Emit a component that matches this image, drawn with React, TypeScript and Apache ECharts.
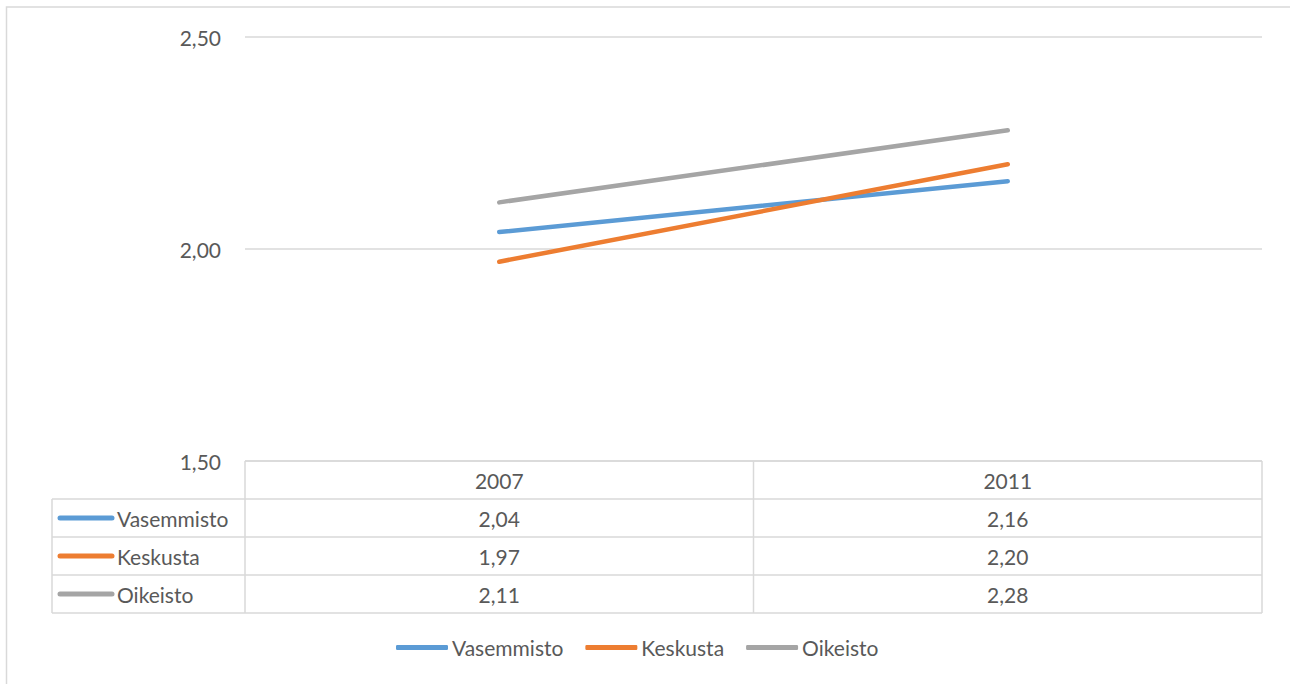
import React, { useEffect, useRef } from "react";
import * as echarts from "echarts";

const categories = ["2007", "2011"];
const seriesNames = ["Vasemmisto", "Keskusta", "Oikeisto"];
const vasemmisto = [2.04, 2.16];
const keskusta = [1.97, 2.2];
const oikeisto = [2.11, 2.28];
const colors = ["#5B9BD5", "#ED7D31", "#A5A5A5"];
const yMin = 1.5;
const yMax = 2.5;
const yInterval = 0.5;

const FONT = "Lato, 'Open Sans', sans-serif";
const FS = 21;
const TEXT = "#595959";
const GRID_C = "#d9d9d9";

export default function App() {
  const ref = useRef<HTMLDivElement>(null);
  useEffect(() => {
    if (!ref.current) return;
    const chart = echarts.init(ref.current, null, { renderer: "svg" });
    const allData = [vasemmisto, keskusta, oikeisto];
    const gl = 245, gr = 1262, gt = 37, gb = 461;
    const W = 1290, H = 684;
    const rowH = 38;
    const tableLeft = 52;
    const nRows = seriesNames.length;
    const tableBottom = gb + rowH * (nRows + 1);
    const catW = (gr - gl) / categories.length;

    const graphics: any[] = [];
    graphics.push({
      type: "rect",
      shape: { x: 6.5, y: 7, width: W + 20, height: H + 20 },
      style: { fill: "none", stroke: GRID_C, lineWidth: 1.5 },
      silent: true,
    });
    for (let r = 1; r <= nRows + 1; r++) {
      const y = gb + r * rowH;
      graphics.push({
        type: "line",
        shape: { x1: tableLeft, y1: y, x2: gr, y2: y },
        style: { stroke: GRID_C, lineWidth: 1.5 },
        silent: true,
      });
    }
    graphics.push({
      type: "line",
      shape: { x1: gl, y1: gb, x2: gr, y2: gb },
      style: { stroke: GRID_C, lineWidth: 1.5 },
      silent: true,
    });
    for (let c = 0; c <= categories.length; c++) {
      const x = gl + c * catW;
      graphics.push({
        type: "line",
        shape: { x1: x, y1: gb, x2: x, y2: tableBottom },
        style: { stroke: GRID_C, lineWidth: 1.5 },
        silent: true,
      });
    }
    graphics.push({
      type: "line",
      shape: { x1: tableLeft, y1: gb + rowH, x2: tableLeft, y2: tableBottom },
      style: { stroke: GRID_C, lineWidth: 1.5 },
      silent: true,
    });
    seriesNames.forEach((name, i) => {
      const yc = gb + rowH * (i + 1) + rowH / 2;
      graphics.push({
        type: "line",
        shape: { x1: 60, y1: yc, x2: 112, y2: yc },
        style: { stroke: colors[i], lineWidth: 5, lineCap: "round" },
        silent: true,
      });
      graphics.push({
        type: "text",
        x: 117,
        y: yc,
        style: {
          text: name,
          fill: TEXT,
          font: `${FS}px ${FONT}`,
          verticalAlign: "middle",
          align: "left",
        },
        silent: true,
      });
      categories.forEach((_, c) => {
        graphics.push({
          type: "text",
          x: gl + (c + 0.5) * catW,
          y: yc,
          style: {
            text: allData[i][c].toFixed(2).replace(".", ","),
            fill: TEXT,
            font: `${FS}px ${FONT}`,
            verticalAlign: "middle",
            align: "center",
          },
          silent: true,
        });
      });
    });

    chart.setOption({
      animation: false,
      backgroundColor: "#ffffff",
      color: colors,
      grid: { left: gl, right: W - gr, top: gt, bottom: H - gb, containLabel: false },
      xAxis: {
        type: "category",
        data: categories,
        boundaryGap: true,
        axisLine: { show: false },
        axisTick: { show: false },
        axisLabel: {
          color: TEXT,
          fontSize: FS,
          fontFamily: FONT,
          margin: 9,
        },
      },
      yAxis: {
        type: "value",
        min: yMin,
        max: yMax,
        interval: yInterval,
        axisLine: { show: false },
        axisTick: { show: false },
        splitLine: { lineStyle: { color: GRID_C, width: 1.5 } },
        axisLabel: {
          color: TEXT,
          fontSize: FS,
          fontFamily: FONT,
          margin: 24,
          formatter: (v: number) => v.toFixed(2).replace(".", ","),
        },
      },
      legend: {
        top: 632,
        left: 391,
        icon: "roundRect",
        itemWidth: 52,
        itemHeight: 5,
        itemGap: 22,
        textStyle: { color: TEXT, fontSize: FS, fontFamily: FONT, padding: [0, 0, 0, -1] },
        data: seriesNames,
      },
      series: seriesNames.map((name, i) => ({
        name,
        type: "line",
        data: allData[i],
        symbol: "none",
        lineStyle: { width: 4.5, color: colors[i], cap: "round" },
      })),
      graphic: graphics,
    });
    return () => chart.dispose();
  }, []);
  return (
    <div
      ref={ref}
      style={{ position: "absolute", left: 0, top: 0, width: 1290, height: 684 }}
    />
  );
}
